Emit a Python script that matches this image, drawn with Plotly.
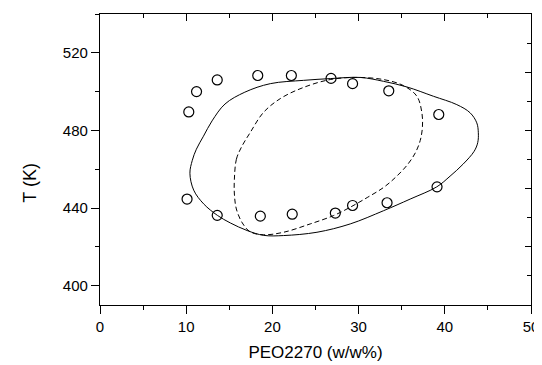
import plotly.graph_objects as go

# Experimental points (PEO2270 w/w %, T in K)
upper_x = [10.3, 11.2, 13.6, 18.3, 22.2, 26.8, 29.3, 33.5, 39.3]
upper_t = [489.5, 500.0, 506.0, 508.3, 508.3, 506.8, 504.1, 500.4, 488.2]
lower_x = [10.1, 13.6, 18.6, 22.3, 27.3, 29.3, 33.3, 39.1]
lower_t = [444.6, 436.2, 435.8, 436.8, 437.4, 441.3, 442.7, 450.9]

# Solid calculated curve
solid_x = [10.43, 10.71, 11.18, 12.0, 13.0, 14.5, 16.8, 19.76, 23.62, 26.71,
           30.19, 32.89, 35.6, 38.68, 41.39, 42.93, 43.71, 43.89, 43.82, 43.4,
           42.12, 40.61, 39.07, 35.98, 32.89, 29.03, 25.17, 21.3, 18.98, 17.06,
           15.12, 13.62, 12.03, 10.87, 10.43]
solid_t = [457.9, 464.6, 470.3, 477.0, 484.9, 493.6, 499.7, 504.1, 505.8, 506.7,
           507.3, 505.3, 502.4, 497.6, 493.3, 489.1, 483.9, 478.8, 473.7, 469.2,
           462.6, 456.4, 450.9, 444.6, 438.6, 431.8, 427.5, 425.8, 425.9, 428.4,
           432.3, 436.2, 442.1, 449.2, 457.9]

# Dashed calculated curve
dash_x = [15.59, 15.82, 16.4, 17.44, 18.95, 20.92, 23.58, 26.71, 29.8, 32.89,
          35.2, 36.76, 37.34, 37.4, 37.15, 36.6, 35.7, 34.4, 32.9, 31.0, 29.03,
          27.09, 24.39, 21.3, 18.98, 17.44, 16.51, 15.82, 15.59, 15.59]
dash_t = [454.9, 465.1, 471.3, 479.0, 489.2, 496.4, 502.1, 506.2, 507.3, 506.2,
          503.1, 497.6, 489.1, 481.5, 474.8, 468.6, 462.5, 456.3, 450.6, 445.4, 440.4,
          436.1, 431.8, 427.5, 426.2, 427.7, 432.3, 439.5, 447.2, 454.9]

X_TITLE = "PEO2270 (w/w%)"
Y_TITLE = "T (K)"

FONT = "Liberation Sans, Arial, sans-serif"

fig = go.Figure()
fig.add_trace(go.Scatter(x=solid_x, y=solid_t, mode="lines",
                         line=dict(color="black", width=1, shape="spline", smoothing=1.0),
                         showlegend=False, hoverinfo="skip"))
fig.add_trace(go.Scatter(x=dash_x, y=dash_t, mode="lines",
                         line=dict(color="black", width=1, dash="5px,3px",
                                   shape="spline", smoothing=1.0),
                         showlegend=False, hoverinfo="skip"))
fig.add_trace(go.Scatter(x=upper_x + lower_x, y=upper_t + lower_t, mode="markers",
                         marker=dict(symbol="circle-open", size=10, color="black",
                                     line=dict(width=1.2, color="black")),
                         showlegend=False))
# empty trace to register the mirror axes
fig.add_trace(go.Scatter(x=[], y=[], xaxis="x2", yaxis="y2", showlegend=False))

fig.add_annotation(text=Y_TITLE, textangle=-90, xref="paper", yref="paper",
                   x=0, y=0.42, xanchor="center", yanchor="middle", xshift=-70,
                   showarrow=False, font=dict(size=18, family=FONT, color="black"))

fig.update_layout(
    width=534, height=357,
    margin=dict(l=91.5, r=11, t=6, b=60, autoexpand=False),
    paper_bgcolor="white", plot_bgcolor="white",
    font=dict(family=FONT, color="black", size=15),
    xaxis=dict(range=[0, 50], tick0=0, dtick=10, ticks="outside", ticklen=8,
               tickwidth=1.2, tickcolor="black", showline=True, linecolor="black",
               linewidth=1.3, showgrid=False, zeroline=False, automargin=False,
               tickfont=dict(size=15, family=FONT),
               minor=dict(dtick=5, ticks="outside", ticklen=4, tickwidth=1.2,
                          tickcolor="black", showgrid=False),
               title=dict(text=X_TITLE, font=dict(size=17, family=FONT),
                          standoff=11)),
    yaxis=dict(range=[390, 540], tick0=400, dtick=40, ticks="outside", ticklen=8,
               tickwidth=1.2, tickcolor="black", showline=True, linecolor="black",
               linewidth=1.3, showgrid=False, zeroline=False, automargin=False,
               tickfont=dict(size=15, family=FONT),
               minor=dict(dtick=20, tick0=400, ticks="outside", ticklen=4, tickwidth=1.2,
                          tickcolor="black", showgrid=False)),
    xaxis2=dict(range=[0, 50], overlaying="x", side="top", anchor="y",
                tick0=0, dtick=10, ticks="inside", ticklen=7, tickwidth=1.2,
                tickcolor="black", showline=True, linecolor="black", linewidth=1.3,
                showticklabels=False, showgrid=False, zeroline=False, automargin=False,
                minor=dict(dtick=5, ticks="inside", ticklen=4, tickwidth=1.2,
                           tickcolor="black", showgrid=False)),
    yaxis2=dict(range=[390, 540], overlaying="y", side="right", anchor="x",
                tick0=390, dtick=30, ticks="inside", ticklen=6, tickwidth=1.2,
                tickcolor="black", showline=True, linecolor="black", linewidth=1.3,
                showticklabels=False, showgrid=False, zeroline=False, automargin=False,
                minor=dict(dtick=15, tick0=390, ticks="inside", ticklen=4, tickwidth=1.2,
                           tickcolor="black", showgrid=False)),
)

fig.write_html("out.html")
